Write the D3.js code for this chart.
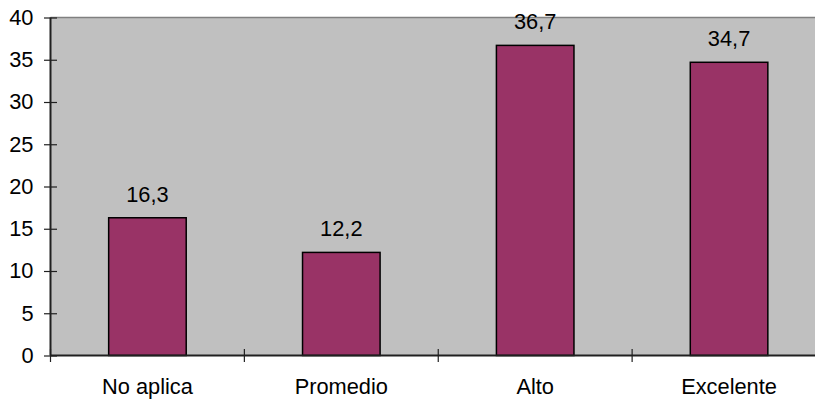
<!DOCTYPE html>
<html><head><meta charset="utf-8">
<script src="https://cdn.jsdelivr.net/npm/d3@7"></script>
<style>body{margin:0;background:#fff}svg{display:block}text{font-family:"Liberation Sans",Arial,sans-serif;fill:#000}</style>
</head><body>
<svg id="c" width="815" height="400"></svg>
<script>
const categories = ["No aplica", "Promedio", "Alto", "Excelente"];
const values = [16.3, 12.2, 36.7, 34.7];
const labels = ["16,3", "12,2", "36,7", "34,7"];
const yTicks = [0, 5, 10, 15, 20, 25, 30, 35, 40];

(function () {
const svg = d3.select("#c");
const FS = 21.8;
const pL = 50.5, pR = 826, pT = 17.5, pB = 355.5;
const x = d3.scaleBand().domain(categories).range([pL, pR]).paddingInner(0.6).paddingOuter(0.3);
const y = d3.scaleLinear().domain([0, 40]).range([pB, pT]);

svg.append("rect").attr("x", pL).attr("y", pT).attr("width", pR - pL).attr("height", pB - pT).attr("fill", "#C0C0C0");
svg.append("line").attr("x1", pL).attr("x2", pR).attr("y1", pT).attr("y2", pT).attr("stroke", "#808080").attr("stroke-width", 1.5);

svg.selectAll("rect.bar").data(values).enter().append("rect").attr("class", "bar")
  .attr("x", (d, i) => x(categories[i]))
  .attr("y", d => y(d))
  .attr("width", x.bandwidth())
  .attr("height", d => y(0) - y(d))
  .attr("fill", "#993366").attr("stroke", "#000").attr("stroke-width", 1.5);

svg.selectAll("text.val").data(values).enter().append("text").attr("class", "val")
  .attr("x", (d, i) => x(categories[i]) + x.bandwidth() / 2)
  .attr("y", d => y(d) - 16)
  .attr("text-anchor", "middle").attr("font-size", FS)
  .text((d, i) => labels[i]);

// Y axis
const yAxis = d3.axisLeft(y).tickValues(yTicks).tickSize(0).tickPadding(17);
const gy = svg.append("g").attr("transform", `translate(${pL},0)`).call(yAxis);
gy.select(".domain").remove();
gy.selectAll("text").attr("font-size", FS).attr("font-family", "Liberation Sans, Arial, sans-serif").attr("fill", "#000");
gy.selectAll(".tick").append("line").attr("x1", -6.5).attr("x2", 6.5).attr("stroke", "#202020").attr("stroke-width", 1.2);
svg.append("line").attr("x1", pL).attr("x2", pL).attr("y1", pT).attr("y2", pB).attr("stroke", "#202020").attr("stroke-width", 2);

// X axis
svg.append("line").attr("x1", pL).attr("x2", pR).attr("y1", pB).attr("y2", pB).attr("stroke", "#202020").attr("stroke-width", 2);
const bounds = d3.range(categories.length + 1).map(i => pL + i * (pR - pL) / categories.length);
svg.selectAll("line.xt").data(bounds).enter().append("line").attr("class", "xt")
  .attr("x1", d => d).attr("x2", d => d).attr("y1", pB - 6.5).attr("y2", pB + 6.5)
  .attr("stroke", "#202020").attr("stroke-width", 1.2);
svg.selectAll("text.xl").data(categories).enter().append("text").attr("class", "xl")
  .attr("x", d => x(d) + x.bandwidth() / 2).attr("y", 394)
  .attr("text-anchor", "middle").attr("font-size", FS).text(d => d);
})();
</script>
</body></html>
